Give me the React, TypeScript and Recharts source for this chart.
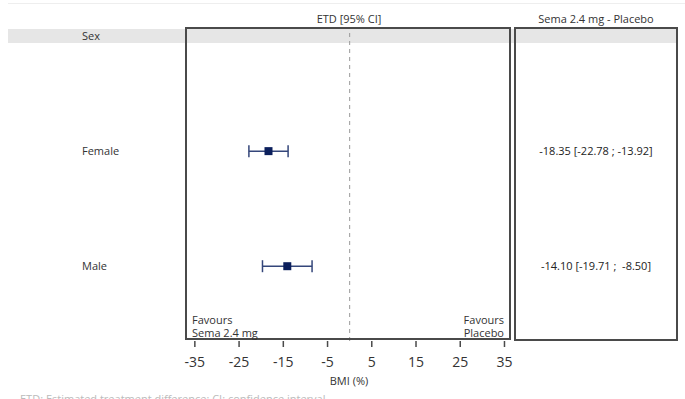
import {
  ScatterChart,
  Scatter,
  XAxis,
  YAxis,
  ZAxis,
  ErrorBar,
  ReferenceLine,
} from 'recharts';

const rowLabels = ['Sex', 'Female', 'Male'];
const subgroups = ['Female', 'Male'];
const estimates = [-18.35, -14.1];
const lowerCI = [-22.78, -19.71];
const upperCI = [-13.92, -8.5];
const xTicks = [-35, -25, -15, -5, 5, 15, 25, 35];

const data = subgroups.map((name, i) => ({
  name,
  row: i + 1,
  etd: estimates[i],
  err: [estimates[i] - lowerCI[i], upperCI[i] - estimates[i]],
  text: `${estimates[i].toFixed(2)} [${lowerCI[i].toFixed(2)} ; ${upperCI[i]
    .toFixed(2)
    .padStart(6, ' ')}]`,
}));

const FONT = '"Open Sans", "DejaVu Sans", sans-serif';
const NAVY = '#0b1f5c';
const BOX = '#4a4a4a';

function LeftTick(props: any) {
  const { y, payload } = props;
  return (
    <text x={82} y={y} dy={4} fontSize={11} fill="#333" fontFamily={FONT}>
      {rowLabels[payload.value]}
    </text>
  );
}

function RightTick(props: any) {
  const { y, payload } = props;
  const d = data.find((r) => r.row === payload.value);
  if (!d) return null;
  return (
    <text
      x={596}
      y={y}
      dy={4}
      fontSize={11}
      fill="#222"
      textAnchor="middle"
      fontFamily={FONT}
      style={{ whiteSpace: 'pre' }}
    >
      {d.text}
    </text>
  );
}

export default function App() {
  return (
    <div
      style={{
        position: 'absolute',
        left: 0,
        top: 0,
        width: 685,
        height: 399,
        overflow: 'hidden',
        background: '#fff',
        fontFamily: FONT,
        color: '#333',
      }}
    >
      {/* faint top rule */}
      <div style={{ position: 'absolute', left: 8, top: 3, width: 677, height: 1, background: '#eee' }} />
      {/* header row band */}
      <div style={{ position: 'absolute', left: 8, top: 29, width: 669, height: 14, background: '#e6e6e6' }} />
      <div style={{ position: 'absolute', left: 186, top: 11, width: 326, textAlign: 'center', fontSize: 11 }}>
        ETD [95% CI]
      </div>
      <div style={{ position: 'absolute', left: 515, top: 11, width: 162, textAlign: 'center', fontSize: 11 }}>
        Sema 2.4 mg - Placebo
      </div>

      <div style={{ position: 'absolute', left: 0, top: 0 }}>
        <ScatterChart width={685} height={399} margin={{ top: 28, right: 0, bottom: 0, left: 0 }}>
          <XAxis
            type="number"
            dataKey="etd"
            domain={[-37, 36.7]}
            ticks={xTicks}
            allowDataOverflow
            axisLine={false}
            tickLine={{ stroke: BOX, strokeWidth: 1.5 }}
            tickSize={6}
            tickMargin={10}
            height={58}
            tick={{ fontSize: 14, fill: '#333', fontFamily: FONT }}
            label={{ value: 'BMI (%)', position: 'insideBottom', offset: 14, fontSize: 11, fill: '#333', fontFamily: FONT }}
          />
          <YAxis
            yAxisId="left"
            type="number"
            dataKey="row"
            domain={[-0.07, 2.65]}
            reversed
            allowDataOverflow
            ticks={[0, 1, 2]}
            width={186}
            axisLine={false}
            tickLine={false}
            tick={<LeftTick />}
          />
          <YAxis
            yAxisId="right"
            orientation="right"
            type="number"
            dataKey="row"
            domain={[-0.07, 2.65]}
            reversed
            allowDataOverflow
            ticks={[1, 2]}
            width={173}
            axisLine={false}
            tickLine={false}
            tick={<RightTick />}
          />
          <ZAxis range={[64, 64]} />
          <ReferenceLine
            yAxisId="left"
            x={0}
            stroke="#999"
            strokeDasharray="4 4"
            strokeWidth={1}
          />
          <Scatter
            yAxisId="left"
            data={data}
            fill={NAVY}
            shape="square"
            isAnimationActive={false}
          >
            <ErrorBar
              dataKey="err"
              direction="x"
              width={6}
              stroke="#34467a"
              strokeWidth={1.5}
              isAnimationActive={false}
            />
          </Scatter>
        </ScatterChart>
      </div>

      {/* panel boxes */}
      <div
        style={{
          position: 'absolute',
          left: 185,
          top: 27,
          width: 326,
          height: 313,
          border: `2px solid ${BOX}`,
          boxSizing: 'border-box',
          pointerEvents: 'none',
        }}
      />
      <div
        style={{
          position: 'absolute',
          left: 514,
          top: 27,
          width: 164,
          height: 314,
          border: `2px solid ${BOX}`,
          boxSizing: 'border-box',
          pointerEvents: 'none',
        }}
      />
      <div style={{ position: 'absolute', left: 192, top: 313, fontSize: 11, lineHeight: '13px' }}>
        Favours
        <br />
        Sema 2.4 mg
      </div>
      <div style={{ position: 'absolute', left: 440, width: 64, top: 313, fontSize: 11, lineHeight: '13px', textAlign: 'right' }}>
        Favours
        <br />
        Placebo
      </div>
      <div style={{ position: 'absolute', left: 20, top: 391, fontSize: 11, color: '#bbb' }}>
        ETD: Estimated treatment difference; CI: confidence interval
      </div>
    </div>
  );
}
